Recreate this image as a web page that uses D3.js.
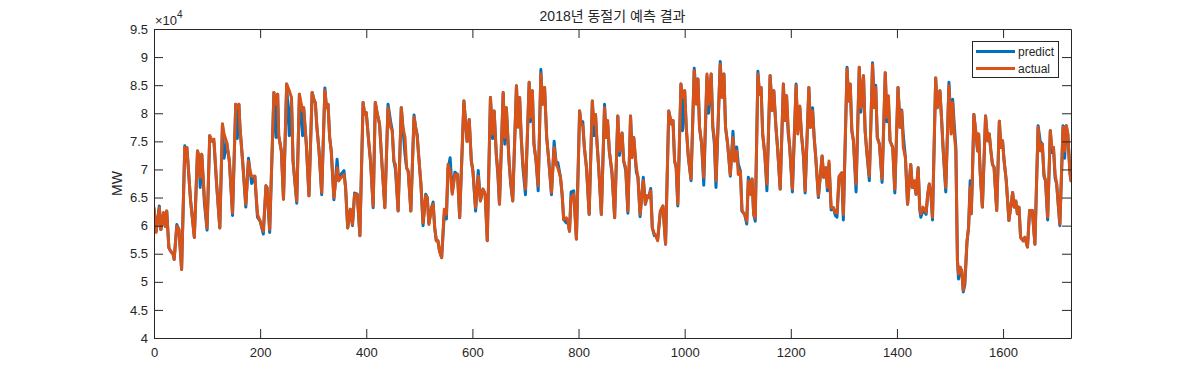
<!DOCTYPE html>
<html>
<head>
<meta charset="utf-8">
<script src="https://cdn.jsdelivr.net/npm/d3@7/dist/d3.min.js"></script>
<style>
  html, body { margin: 0; padding: 0; background: #fff; }
  svg { display: block; }
  text { font-family: "Liberation Sans", Arial, Helvetica, "Noto Sans CJK KR", sans-serif; fill: #262626; }
</style>
</head>
<body>
<svg id="chart" width="1184" height="380"></svg>
<script>
// ---- data (hour index, MW) ----
const hours = [0,4,10,13,18,21,24,28,31,36,38,43,47,52,58,60,62,69,76,82,85,87,90,95,100,105,109,113,118,124,129,132,137,142,148,154,157,160,162,167,173,178,181,184,190,195,200,206,211,213,218,226,230,233,235,240,244,250,255,259,262,269,274,280,282,287,292,298,302,304,307,311,316,322,325,328,331,334,339,345,348,353,358,361,365,370,374,378,383,388,394,397,400,405,408,413,417,421,425,430,435,441,446,449,452,455,460,466,469,473,476,479,484,490,493,496,499,503,507,512,515,518,523,526,529,532,535,538,542,547,551,554,558,562,567,572,576,584,590,594,598,601,606,611,615,620,624,628,634,638,641,645,648,651,658,661,664,669,672,676,683,686,689,692,695,700,707,709,713,716,720,724,729,732,736,740,744,749,754,758,761,766,769,772,777,780,783,786,791,796,802,805,808,811,815,820,826,829,832,835,838,843,849,852,855,858,863,868,874,877,882,885,889,893,898,901,904,909,912,916,922,926,929,932,936,939,943,946,949,954,959,964,970,975,978,981,984,987,993,996,1000,1003,1007,1012,1018,1022,1025,1028,1032,1036,1042,1045,1050,1053,1056,1059,1067,1070,1074,1077,1081,1086,1091,1094,1098,1101,1105,1108,1113,1117,1120,1124,1127,1130,1133,1138,1141,1144,1147,1151,1155,1161,1165,1168,1172,1175,1180,1186,1189,1192,1195,1198,1203,1210,1213,1217,1220,1224,1227,1234,1237,1241,1244,1247,1252,1259,1262,1266,1269,1272,1276,1280,1284,1287,1291,1296,1299,1306,1309,1312,1315,1318,1323,1329,1332,1337,1340,1343,1348,1354,1357,1360,1363,1367,1372,1378,1381,1384,1387,1392,1396,1402,1406,1409,1412,1416,1420,1426,1429,1433,1436,1440,1443,1445,1449,1455,1458,1461,1464,1467,1473,1476,1481,1484,1487,1492,1498,1502,1505,1508,1511,1514,1516,1519,1522,1525,1528,1532,1535,1538,1540,1542,1545,1549,1552,1554,1557,1561,1567,1571,1574,1577,1580,1583,1588,1593,1596,1599,1602,1606,1611,1618,1621,1624,1627,1630,1633,1638,1641,1646,1650,1655,1660,1666,1670,1674,1677,1680,1684,1689,1692,1695,1698,1701,1707,1713,1716,1719,1722,1726,1728];

const actual = [63200,58800,63200,59300,62300,59900,62600,56100,55500,54900,54000,59900,59300,52200,73900,71500,73900,64400,57900,73300,72100,68600,72700,65000,59600,76000,75100,75400,67400,59600,78100,76300,74800,71500,62300,81600,81000,81600,77500,71500,63800,71500,69700,68800,68800,62000,60800,59000,67100,66800,59300,83700,81600,83400,76000,73300,64700,85200,84000,82800,71500,64400,83400,80400,81000,74500,65300,83700,82200,81900,77500,73300,65900,84100,81000,81600,75700,73300,65000,70300,68000,68600,69100,66800,59600,62900,60200,65600,65600,58200,81900,79800,80100,74500,71500,63500,81900,79800,78100,70300,63200,81000,77500,76900,71500,70900,62600,81000,77500,75700,70300,69700,62600,79300,77500,75700,72100,67400,60500,65300,65000,60200,63200,63800,59600,57300,57300,55500,54300,62900,62000,70900,69700,65600,69100,69100,61400,82200,75000,78900,71500,69700,63200,68800,64400,66500,65600,57300,82800,76300,80400,72700,69700,63800,83700,75700,81000,71500,68000,64400,84900,77500,82800,75700,71500,66500,85500,79300,84000,74500,71500,67100,87000,81600,84600,75700,71500,65900,73900,70900,70300,68600,65600,61100,61400,60800,59000,65000,65600,57600,80400,78100,77800,73900,70300,62000,82200,78100,79800,74500,70300,62000,81000,75700,78700,73300,69700,61400,79500,73300,76500,71500,70300,62600,79500,72100,75700,70300,68600,62000,68000,63800,65300,65000,66200,59600,58500,58200,57300,62600,63500,56700,80400,78100,78700,71500,70300,63800,85200,82800,84000,77500,72100,68300,87600,81600,86100,77500,74500,68600,87000,81600,87000,77500,75700,68000,88700,82800,87000,77500,74500,69100,75700,71500,73300,69100,69700,62600,62000,60800,68000,65600,68300,62000,61400,87000,83400,84600,76300,72700,67400,86700,80500,84000,77500,73900,66500,85200,78700,83100,77500,73900,66500,84900,76300,81300,76300,72700,66200,84600,77500,80400,75700,72100,65300,72400,68600,70300,66800,71500,63200,63200,62300,62300,68800,69400,62000,87900,82200,85200,76900,75100,67400,88200,81000,86700,76900,73300,68800,88700,81000,84600,75700,74500,68300,87200,79300,83100,75100,73900,66500,84600,77500,80400,73900,72100,63800,70900,66800,68000,65600,70300,63200,62100,63300,62400,65600,67400,65600,61500,86300,81000,84000,79200,73900,66800,84900,76300,81900,76300,73300,53800,51400,52600,52000,48500,50200,57300,59700,66800,62100,68000,79800,76300,73300,76300,69200,63300,79500,75100,76300,73300,70900,70400,62700,78600,73900,75100,71500,68000,60900,65900,63300,64400,62100,63300,57900,57300,57900,56200,62700,62700,56700,77500,73300,74500,69200,68000,61500,76900,73900,73900,69200,67400,60300,77500,73300,77800,76300,69200,68000];

const predict = [63000,59000,63500,59300,62300,59900,62600,56100,55500,54900,54000,60200,59300,52200,74200,71500,73900,64400,57900,73300,72100,66800,72700,64000,59200,76000,75100,74800,67400,59600,78100,72000,74800,71500,61800,81600,75500,81600,77500,71500,63300,72000,69700,67500,68800,61500,60800,58500,67100,66800,58800,83700,75700,83400,76000,73300,64700,85200,76000,82800,71500,64000,83400,76000,81000,74500,65300,83700,82200,81900,77500,73300,65500,84500,81000,81600,75700,73300,64600,71800,68000,69200,69800,66800,59600,62900,60000,65800,65600,58200,81900,79800,80100,74500,71500,63200,81900,79800,78100,70300,63200,81600,78500,76900,71500,70000,62600,81000,77500,72700,70300,69700,62600,79700,77500,76200,72100,67400,60000,65600,65000,60400,63200,64200,59600,57300,57300,55500,54300,62000,61200,70000,72100,66000,69500,69100,61400,82200,75000,78900,71500,69700,62600,69800,64400,66500,65600,57300,82800,75500,80400,72700,69000,63800,83700,74500,81000,71500,67500,64400,84900,78500,82800,75700,70500,65500,85500,78500,84000,74500,71500,66200,87800,81600,84600,75700,71500,65500,75000,70900,71200,68600,65600,61100,60500,60800,59000,66000,66200,57600,80400,78100,78500,73900,70300,62000,82200,76000,79800,74500,70300,62000,81600,75700,78000,73300,69200,61400,79500,72500,76500,71500,69800,62200,79500,73000,75700,69500,68600,61600,68600,63800,65300,65000,66600,59600,58200,58200,57500,62200,63500,56700,80400,78100,78700,71500,70300,63500,85200,76900,84000,77500,72100,68000,88000,83000,86100,77500,74500,67200,86600,80000,87000,77500,74500,66800,89200,83500,87000,77500,74500,68800,76800,71500,74000,71000,69700,62600,62000,60300,68600,65600,68300,62000,60800,87500,83400,84600,76300,72700,66200,86700,80500,84000,77500,73900,66500,85200,78700,83100,76500,73900,66000,85200,77000,81000,76300,72000,65800,84600,77500,81000,75700,72100,65000,72400,68600,70300,66200,71000,62800,63200,61800,61500,68600,69400,61000,88200,82200,85200,76900,75100,66000,88200,80200,86700,76900,73300,68000,89000,82500,85000,75700,74500,67700,87200,78500,82000,75100,73900,65800,84600,77500,80600,76000,72100,63800,70900,66800,67200,65600,70300,62800,61500,62800,62000,65600,67400,65600,61000,86300,81000,84000,79200,73500,66000,85500,77500,82500,78000,74000,53800,50500,52600,52000,48200,49500,57000,59700,68000,62100,68000,79800,76300,73300,76300,69200,63300,79500,75100,76300,73300,70900,70400,62700,78600,73900,75100,71500,68000,60900,65900,63300,64400,62100,63300,57900,57300,57900,56200,62700,62700,56700,77800,75000,74500,68800,68000,61000,76900,73000,73900,68500,67400,60000,77800,72000,77800,76300,69500,68000];

const seriesNames = ["predict", "actual"];
const seriesColors = ["#0072BD", "#D95319"];
const xTicks = [0, 200, 400, 600, 800, 1000, 1200, 1400, 1600];
const yTicks = [40000, 45000, 50000, 55000, 60000, 65000, 70000, 75000, 80000, 85000, 90000, 95000];
const xDomain = [0, 1728];
const yDomain = [40000, 95000];
const titleText = "2018년 동절기 예측 결과";
const yLabelText = "MW";

// ---- layout ----
const svg = d3.select("#chart");
const L = 154, T = 29, R = 1071, B = 338;
const x = d3.scaleLinear().domain(xDomain).range([L, R]);
const y = d3.scaleLinear().domain(yDomain).range([B, T]);
const axisColor = "#262626";
const tickLen = 9;

svg.append("defs").append("clipPath").attr("id", "clip")
  .append("rect").attr("x", L).attr("y", T).attr("width", R - L).attr("height", B - T);

const seriesData = [predict, actual];
const line = d3.line().x((d, i) => x(hours[i])).y(d => y(d));
const lg = svg.append("g").attr("clip-path", "url(#clip)");
seriesData.forEach((vals, k) => {
  lg.append("path")
    .attr("d", line(vals))
    .attr("fill", "none")
    .attr("stroke", seriesColors[k])
    .attr("stroke-width", 3)
    .attr("stroke-linejoin", "round")
    .attr("stroke-linecap", "round");
});

function styleAxis(g) {
  g.select(".domain").attr("stroke", axisColor).attr("stroke-width", 1);
  g.selectAll(".tick line").attr("stroke", axisColor).attr("stroke-width", 1);
  g.selectAll(".tick text").style("font-size", "13px").attr("fill", axisColor);
}
const fmtX = d3.format("d");
const fmtY = d => d3.format("~g")(d / 1e4);

svg.append("g").attr("transform", `translate(0,${B})`)
  .call(d3.axisBottom(x).tickValues(xTicks).tickSize(-tickLen).tickPadding(10).tickFormat(fmtX).tickSizeOuter(0))
  .call(styleAxis);
svg.append("g").attr("transform", `translate(0,${T})`)
  .call(d3.axisTop(x).tickValues(xTicks).tickSize(-tickLen).tickFormat("").tickSizeOuter(0))
  .call(styleAxis);
svg.append("g").attr("transform", `translate(${L},0)`)
  .call(d3.axisLeft(y).tickValues(yTicks).tickSize(-tickLen).tickPadding(6).tickFormat(fmtY).tickSizeOuter(0))
  .call(styleAxis);
svg.append("g").attr("transform", `translate(${R},0)`)
  .call(d3.axisRight(y).tickValues(yTicks).tickSize(-tickLen).tickFormat("").tickSizeOuter(0))
  .call(styleAxis);

const ex = svg.append("text").attr("x", L + 1).attr("y", 25).style("font-size", "13px");
ex.append("tspan").text("×10");
ex.append("tspan").attr("dy", -7).style("font-size", "10px").text("4");

svg.append("text").attr("x", (L + R) / 2).attr("y", 21)
  .attr("text-anchor", "middle").style("font-size", "14px").text(titleText);

svg.append("text")
  .attr("transform", `translate(122,${(T + B) / 2}) rotate(-90)`)
  .attr("text-anchor", "middle").style("font-size", "14px").text(yLabelText);

const lgX = 972, lgY = 41, lgW = 86, lgH = 36;
const leg = svg.append("g");
leg.append("rect").attr("x", lgX + 0.5).attr("y", lgY + 0.5).attr("width", lgW).attr("height", lgH)
  .attr("fill", "#fff").attr("stroke", axisColor).attr("stroke-width", 1);
seriesNames.forEach((name, k) => {
  const yy = lgY + 10.5 + k * 17;
  leg.append("line").attr("x1", lgX + 4).attr("x2", lgX + 43).attr("y1", yy).attr("y2", yy)
    .attr("stroke", seriesColors[k]).attr("stroke-width", 3);
  leg.append("text").attr("x", lgX + 46).attr("y", yy + 4).style("font-size", "12px").text(name);
});
</script>
</body>
</html>
